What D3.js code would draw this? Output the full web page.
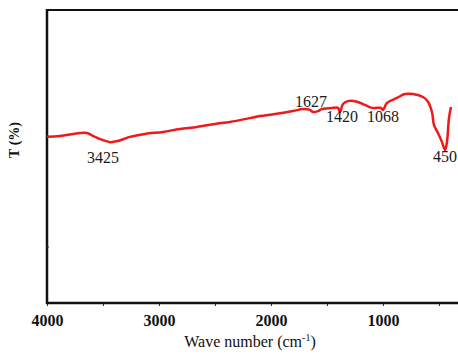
<!DOCTYPE html>
<html>
<head>
<meta charset="utf-8">
<script src="https://cdn.jsdelivr.net/npm/d3@7"></script>
<style>
  body { margin: 0; background: #fff; }
  svg { display: block; }
  .tick-lbl { font-family: "Liberation Serif", "Times New Roman", serif; font-weight: bold; font-size: 16px; }
  .peak { font-family: "Liberation Serif", "Times New Roman", serif; font-size: 16px; }
</style>
</head>
<body>
<script>
// FTIR spectrum, values (wavenumber cm-1, transmittance %)
var waveNumbers = [4000, 3884, 3705, 3643, 3571, 3500, 3437, 3366, 3259, 3125, 2964, 2813, 2661, 2500,
  2366, 2188, 2098, 1964, 1804, 1714, 1652, 1625, 1580, 1545, 1446, 1402, 1384, 1357, 1313, 1232,
  1161, 1098, 1054, 1018, 1000, 964, 875, 804, 732, 643, 598, 563, 545, 509, 473, 446, 429, 411, 393];
var transmittance = [56.7, 57.0, 58.0, 58.0, 56.7, 55.6, 54.9, 55.3, 56.7, 57.7, 58.4, 59.4, 60.1, 61.1,
  61.8, 63.1, 63.8, 64.5, 65.5, 66.2, 65.9, 65.2, 65.5, 66.2, 66.6, 66.6, 65.2, 67.9, 68.9, 68.7,
  67.6, 66.6, 66.6, 66.6, 65.9, 68.3, 70.0, 71.3, 71.3, 70.3, 68.7, 65.2, 60.8, 58.0, 54.9, 52.2, 54.9, 63.1, 66.9];

var peakLabels = ["3425", "1627", "1420", "1068", "450"];
var peakLabelWave = [3500, 1643, 1366, 1000, 446];
var peakLabelT = [47.8, 66.9, 61.8, 61.8, 48.1];

var xTicks = [4000, 3500, 3000, 2500, 2000, 1500, 1000, 500];
var xTickLabels = ["4000", "", "3000", "", "2000", "", "1000", ""];

var W = 458, H = 354;
var mLeft = 47, mTop = 10, mBottom = 303;

var x = d3.scaleLinear().domain([4000, 0]).range([mLeft, mLeft + 448]);
var y = d3.scaleLinear().domain([0, 100]).range([mBottom, mTop]);

var svg = d3.select("body").append("svg")
  .attr("width", W)
  .attr("height", H);

// frame: top line, left axis
svg.append("line")
  .attr("x1", mLeft).attr("x2", W)
  .attr("y1", mTop).attr("y2", mTop)
  .attr("stroke", "#111").attr("stroke-width", 2);

svg.append("line")
  .attr("x1", mLeft).attr("x2", mLeft)
  .attr("y1", mTop - 1).attr("y2", mBottom + 1)
  .attr("stroke", "#111").attr("stroke-width", 2.5);

svg.append("line")
  .attr("x1", mLeft).attr("x2", mLeft + 2)
  .attr("y1", 247).attr("y2", 247)
  .attr("stroke", "#333").attr("stroke-width", 1);

// bottom axis
var xAxis = d3.axisBottom(x)
  .tickValues(xTicks)
  .tickSize(3)
  .tickPadding(9)
  .tickFormat(function (d, i) { return xTickLabels[i]; });

var gx = svg.append("g")
  .attr("transform", "translate(0," + mBottom + ")")
  .call(xAxis);
gx.select(".domain").remove();
gx.selectAll(".tick line").attr("stroke", "#333").attr("stroke-width", 1);
gx.selectAll(".tick text")
  .attr("class", "tick-lbl")
  .attr("fill", "#111")
  .style("font-size", "16px");

svg.append("line")
  .attr("x1", mLeft - 1).attr("x2", W)
  .attr("y1", mBottom).attr("y2", mBottom)
  .attr("stroke", "#111").attr("stroke-width", 2.5);

// axis titles
var xTitle = svg.append("text")
  .attr("x", 250).attr("y", 347)
  .attr("text-anchor", "middle")
  .attr("font-family", "Liberation Serif, Times New Roman, serif")
  .attr("font-size", 16)
  .attr("fill", "#111");
xTitle.append("tspan").text("Wave number (cm");
xTitle.append("tspan").attr("font-size", 10).attr("dy", -6).text("-1");
xTitle.append("tspan").attr("dy", 6).text(")");

svg.append("text")
  .attr("transform", "translate(19,140) rotate(-90)")
  .attr("text-anchor", "middle")
  .attr("font-family", "Liberation Serif, Times New Roman, serif")
  .attr("font-weight", "bold")
  .attr("font-size", 14)
  .attr("fill", "#111")
  .text("T (%)");

// spectrum
var pts = waveNumbers.map(function (w, i) { return [w, transmittance[i]]; });

var line = d3.line()
  .x(function (d) { return x(d[0]); })
  .y(function (d) { return y(d[1]); })
  .curve(d3.curveCatmullRom.alpha(0.5));

svg.append("path")
  .datum(pts)
  .attr("d", line)
  .attr("fill", "none")
  .attr("stroke", "#f01818")
  .attr("stroke-width", 2.5)
  .attr("stroke-linejoin", "round");

// peak labels
svg.selectAll("text.peak").data(peakLabels)
  .enter()
  .append("text")
  .attr("class", "peak")
  .attr("text-anchor", "middle")
  .attr("fill", "#1a1a1a")
  .attr("x", function (d, i) { return x(peakLabelWave[i]); })
  .attr("y", function (d, i) { return y(peakLabelT[i]); })
  .text(function (d) { return d; });
</script>
</body>
</html>
